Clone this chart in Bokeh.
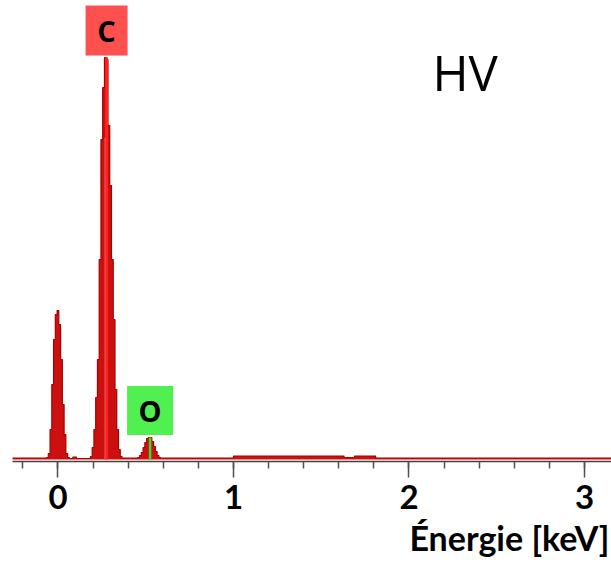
from bokeh.plotting import figure
from bokeh.models import Range1d, SingleIntervalTicker, Label, ColumnDataSource, Title
from bokeh.core.properties import value
from bokeh.embed import file_html
from bokeh.resources import INLINE

# EDS spectrum: channel start energies (keV) and counts (arbitrary units)
bin_start_kev = [
    -0.26,
    -0.065, -0.055, -0.045, -0.035, -0.025, -0.015, -0.005, 0.005, 0.015, 0.025, 0.035, 0.045, 0.055,
    0.065, 0.085, 0.105,
    0.185, 0.195, 0.205, 0.215, 0.225, 0.235, 0.245, 0.255, 0.265, 0.275, 0.285, 0.295, 0.305,
    0.315, 0.325, 0.335, 0.345, 0.355,
    0.365,
    0.455, 0.465, 0.475, 0.485, 0.495, 0.505, 0.515, 0.525, 0.535, 0.545, 0.555, 0.565, 0.575,
    0.585, 1.00, 1.63, 1.69, 1.81, 3.16,
]
bin_counts = [
    1.5,
    2, 6, 30, 75, 120, 145, 149, 135, 100, 55, 25, 6, 2,
    1, 2.5, 1,
    3, 12, 30, 62, 100, 200, 320, 372, 402, 400, 334, 274, 200,
    140, 70, 30, 10, 3,
    1.5,
    2, 4, 7, 12, 17, 21, 22, 22, 18, 13, 8, 4, 2,
    1.5, 3.5, 2, 3.5, 1.5, 1.5,
]

# Identified element lines
line_names = ["C", "O"]
line_energy_kev = [0.277, 0.525]
line_peak_counts = [402, 22]

tick_values = [0, 1, 2, 3]
axis_title = "Énergie [keV]"
sample_label = "HV"

FILL = "#cc1010"
EDGE = "#a80000"

p = figure(width=611, height=566, output_backend="svg", toolbar_location=None,
           x_range=Range1d(-0.259, 3.154), y_range=Range1d(-2, 459),
           min_border_left=12, min_border_right=0, min_border_top=0, min_border_bottom=105)
p.outline_line_color = None
p.xgrid.visible = False
p.ygrid.visible = False
p.yaxis.visible = False
p.background_fill_color = "white"

src = ColumnDataSource(dict(x=bin_start_kev, y=bin_counts))
p.varea_step(x="x", y1=0, y2="y", step_mode="after", source=src, fill_color=FILL)
p.step(x="x", y="y", mode="after", source=src, line_color=EDGE, line_width=1.2)

# element marker lines inside peaks
p.segment(x0=[line_energy_kev[0]], y0=[0], x1=[line_energy_kev[0]], y1=[line_peak_counts[0]],
          line_color="#ff2020", line_width=3)
p.segment(x0=[line_energy_kev[0] - 0.009], y0=[0], x1=[line_energy_kev[0] - 0.009], y1=[line_peak_counts[0] * 0.8],
          line_color="#e86060", line_width=1)
p.segment(x0=[line_energy_kev[1]], y0=[0], x1=[line_energy_kev[1]], y1=[line_peak_counts[1]],
          line_color="#30e030", line_width=2.5)

# label boxes above peaks
off = 27
p.rect(x=[line_energy_kev[0]], y=[line_peak_counts[0] + off], width=42, height=50,
       width_units="screen", height_units="screen", fill_color="#ff5050", line_color=None)
p.rect(x=[line_energy_kev[1]], y=[line_peak_counts[1] + off], width=46, height=49,
       width_units="screen", height_units="screen", fill_color="#50f050", line_color=None)
p.text(x=line_energy_kev, y=[c + off for c in line_peak_counts], text=line_names,
       text_align="center", text_baseline="middle", text_font=value("Open Sans"),
       text_font_style="bold", text_font_size="29px", text_color="black")

# sample label
p.add_layout(Label(x=2.32, y=388, text=sample_label, text_align="center", text_baseline="middle",
                   text_font="Open Sans", text_font_size="49px", text_color="black"))

# axis
ax = p.xaxis[0]
ax.ticker = SingleIntervalTicker(interval=1, num_minor_ticks=5)
ax.axis_line_color = "#404040"
ax.axis_line_width = 1.5
ax.major_tick_line_color = "#505050"
ax.minor_tick_line_color = "#505050"
ax.major_tick_line_width = 1.5
ax.minor_tick_line_width = 1.5
ax.major_tick_in = 0
ax.minor_tick_in = 0
ax.major_tick_out = 16
ax.minor_tick_out = 7
ax.major_label_standoff = 7
ax.major_label_text_font = "Lato"
ax.major_label_text_font_style = "bold"
ax.major_label_text_font_size = "33px"
ax.major_label_text_color = "black"

p.add_layout(Title(text=axis_title, align="right", text_font="Lato", text_font_style="bold",
                   text_font_size="34px", text_color="black", standoff=6, offset=2), "below")

open("out.html", "w").write(file_html(p, INLINE))
